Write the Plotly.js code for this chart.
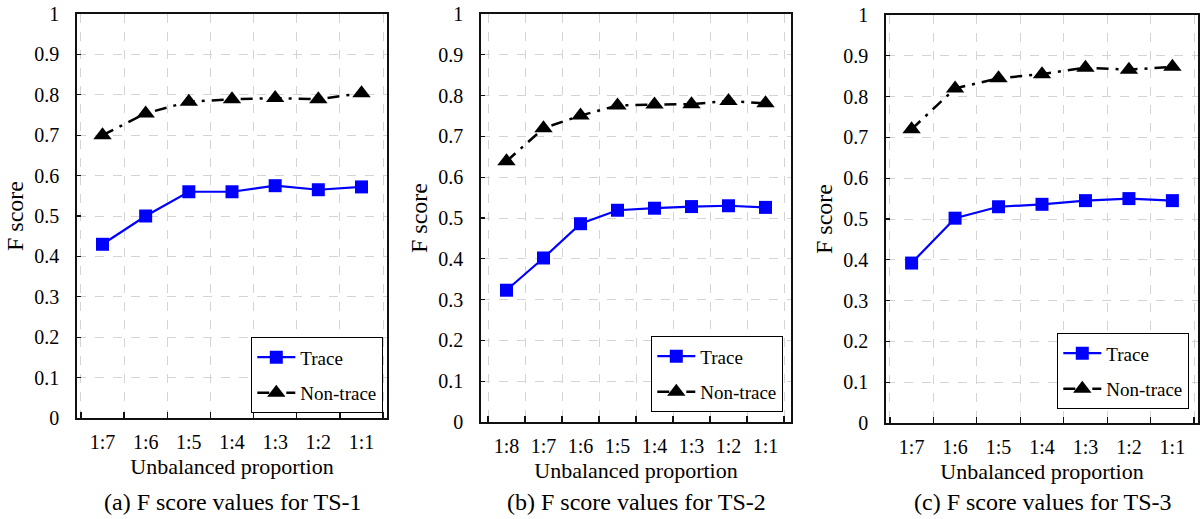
<!DOCTYPE html>
<html>
<head>
<meta charset="utf-8">
<script src="https://cdn.plot.ly/plotly-3.0.1.min.js"></script>
<style>html,body{margin:0;padding:0;background:#fff;font-family:"Liberation Serif",serif;}#chart{width:1203px;height:519px;}</style>
</head>
<body>
<div id="chart"></div>
<script>
// ---- data ----
const catsA = ['1:7','1:6','1:5','1:4','1:3','1:2','1:1'];
const catsB = ['1:8','1:7','1:6','1:5','1:4','1:3','1:2','1:1'];
const catsC = ['1:7','1:6','1:5','1:4','1:3','1:2','1:1'];
const traceA = [0.43, 0.50, 0.56, 0.56, 0.575, 0.565, 0.572];
const nonTraceA = [0.70, 0.754, 0.783, 0.789, 0.792, 0.789, 0.804];
const traceB = [0.323, 0.402, 0.486, 0.519, 0.524, 0.528, 0.530, 0.526];
const nonTraceB = [0.639, 0.72, 0.751, 0.776, 0.778, 0.779, 0.787, 0.781];
const traceC = [0.392, 0.502, 0.530, 0.536, 0.545, 0.550, 0.545];
const nonTraceC = [0.72, 0.82, 0.845, 0.855, 0.871, 0.866, 0.873];
const yTicks = [0,0.1,0.2,0.3,0.4,0.5,0.6,0.7,0.8,0.9,1];
const yTickText = ['0','0.1','0.2','0.3','0.4','0.5','0.6','0.7','0.8','0.9','1'];
const seriesNames = ['Trace','Non-trace'];
const captions = ['(a) F score values for TS-1','(b) F score values for TS-2','(c) F score values for TS-3'];

const FONT = '"Times New Roman", "Liberation Serif", Times, serif';
const W = 1203, H = 519;
const panels = [
  {cats: catsA, tr: traceA, nt: nonTraceA, x0: 77, x1: 387, y0: 14, y1: 418, lgR: 383, lgB: 413},
  {cats: catsB, tr: traceB, nt: nonTraceB, x0: 481, x1: 791, y0: 14, y1: 422, lgR: 783, lgB: 412},
  {cats: catsC, tr: traceC, nt: nonTraceC, x0: 886, x1: 1198, y0: 15, y1: 423, lgR: 1189, lgB: 409}
];

const data = [];
const layout = {
  width: W, height: H,
  margin: {l: 0, r: 0, t: 0, b: 0},
  paper_bgcolor: '#fff', plot_bgcolor: '#fff',
  font: {family: FONT, color: '#000', size: 20},
  showlegend: true,
  annotations: []
};

panels.forEach((p, i) => {
  const sfx = i === 0 ? '' : String(i + 1);
  const lg = 'legend' + sfx;
  data.push({
    x: p.cats, y: p.tr, name: seriesNames[0], type: 'scatter', mode: 'lines+markers',
    xaxis: 'x' + sfx, yaxis: 'y' + sfx, legend: lg, legendgroup: 'g1' + i,
    line: {color: '#0000ff', width: 2.2},
    marker: {symbol: 'square', size: 13, color: '#0000ff'}
  });
  data.push({
    x: p.cats, y: p.nt, name: seriesNames[1], type: 'scatter', mode: 'lines+markers',
    xaxis: 'x' + sfx, yaxis: 'y' + sfx, legend: lg, legendgroup: 'g2' + i,
    line: {color: '#000', width: 2.5, dash: '12px,7px,3px,7px'},
    marker: {symbol: 'triangle-up', size: 16, color: '#000'}
  });
  layout['xaxis' + sfx] = {
    domain: [p.x0 / W, p.x1 / W],
    anchor: 'y' + sfx,
    type: 'category',
    tickson: 'boundaries',
    ticks: 'inside', ticklen: 6, tickwidth: 1.3, tickcolor: '#111',
    showgrid: true, gridcolor: '#d4d4d4', griddash: 'dash', gridwidth: 1,
    showline: true, linecolor: '#111', linewidth: 1.8, mirror: true,
    tickfont: {family: FONT, size: 20, color: '#000'},
    ticklabelstandoff: 5,
    title: {text: 'Unbalanced proportion', font: {family: FONT, size: 22, color: '#000'}, standoff: 7},
    fixedrange: true
  };
  layout['yaxis' + sfx] = {
    domain: [1 - p.y1 / H, 1 - p.y0 / H],
    anchor: 'x' + sfx,
    range: [0, 1],
    tickvals: yTicks, ticktext: yTickText,
    ticks: 'inside', ticklen: 4, tickwidth: 1.3, tickcolor: '#111',
    showgrid: true, gridcolor: '#d4d4d4', griddash: 'dash', gridwidth: 1,
    zeroline: false,
    showline: true, linecolor: '#111', linewidth: 1.8, mirror: true,
    tickfont: {family: FONT, size: 20, color: '#000'},
    ticklabelstandoff: 12,
    title: {text: 'F score', font: {family: FONT, size: 24, color: '#000'}, standoff: 4},
    fixedrange: true
  };
  layout[lg] = {
    x: p.lgR / W, xanchor: 'right',
    y: 1 - p.lgB / H, yanchor: 'bottom',
    bgcolor: '#fff', bordercolor: '#000', borderwidth: 1.3,
    font: {family: FONT, size: 19, color: '#000'},
    tracegroupgap: 8,
    itemwidth: 38,
    orientation: 'v'
  };
  layout.annotations.push({
    xref: 'paper', yref: 'paper',
    x: (p.x0 + p.x1) / 2 / W, y: 1 - 502 / H,
    xanchor: 'center', yanchor: 'middle',
    text: captions[i], showarrow: false,
    font: {family: FONT, size: 24, color: '#000'}
  });
});

Plotly.newPlot('chart', data, layout, {staticPlot: true, displayModeBar: false});
</script>
</body>
</html>
